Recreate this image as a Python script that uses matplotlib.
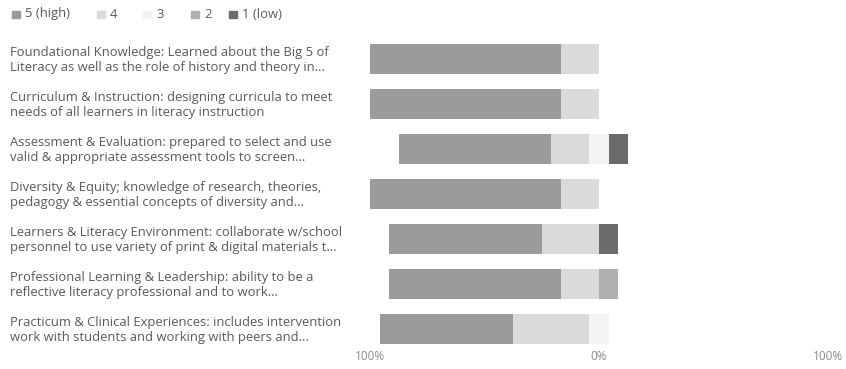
import numpy as np
import matplotlib
matplotlib.use('Agg')
import matplotlib.pyplot as plt
from matplotlib.patches import Rectangle

plt.rcParams['font.family'] = ['Open Sans', 'DejaVu Sans']

# questions (rows, top to bottom)
questions = [
    "Foundational Knowledge: Learned about the Big 5 of\nLiteracy as well as the role of history and theory in\u2026",
    "Curriculum & Instruction: designing curricula to meet\nneeds of all learners in literacy instruction",
    "Assessment & Evaluation: prepared to select and use\nvalid & appropriate assessment tools to screen\u2026",
    "Diversity & Equity; knowledge of research, theories,\npedagogy & essential concepts of diversity and\u2026",
    "Learners & Literacy Environment: collaborate w/school\npersonnel to use variety of print & digital materials t\u2026",
    "Professional Learning & Leadership: ability to be a\nreflective literacy professional and to work\u2026",
    "Practicum & Clinical Experiences: includes intervention\nwork with students and working with peers and\u2026",
]

# number of responses for each rating
levels = ["5 (high)", "4", "3", "2", "1 (low)"]
n5 = [10, 10, 8, 10, 8, 9, 7]
n4 = [2, 2, 2, 2, 3, 2, 4]
n3 = [0, 0, 1, 0, 0, 0, 1]
n2 = [0, 0, 0, 0, 0, 1, 0]
n1 = [0, 0, 1, 0, 1, 0, 0]

colors = ["#9b9b9b", "#dadada", "#f3f3f3", "#b0b0b0", "#6b6b6b"]

counts = np.array([n5, n4, n3, n2, n1], dtype=float)
pct = counts / counts.sum(axis=0) * 100

W, H = 846, 369
fig = plt.figure(figsize=(W / 100, H / 100), dpi=100)
ax = fig.add_axes([370 / W, 1 - 351.5 / H, 458 / W, 315 / H])

y = np.arange(len(questions))
# diverging: positives to the left of 0, neutral centred on 0
start = -(pct[0] + pct[1] + pct[2] / 2)
for i in range(5):
    ax.barh(y, pct[i], left=start, height=0.67, color=colors[i], edgecolor='none')
    start = start + pct[i]

ax.set_xlim(-100, 100)
ax.set_ylim(len(questions) - 0.5, -0.5)
ax.set_yticks([])
ax.set_xticks([-100, 0, 100])
ax.set_xticklabels(["100%", "0%", "100%"], fontsize=8.5, color="#8a8a8a")
ax.tick_params(axis='x', length=0, pad=-1)
for s in ax.spines.values():
    s.set_visible(False)

# row labels
for i, q in enumerate(questions):
    yc = 60 + 45 * i
    fig.text(10 / W, 1 - yc / H, q, ha='left', va='center', fontsize=9.4,
             color="#5a5a5a", linespacing=1.22)

# legend across the top
leg_x = [12, 97, 143, 191, 229]
for lx, lab, c in zip(leg_x, levels, colors):
    fig.patches.append(Rectangle((lx / W, 1 - 18 / H), 8 / W, 7 / H,
                                 transform=fig.transFigure, color=c))
    fig.text((lx + 13) / W, 1 - 14 / H, lab, ha='left', va='center',
             fontsize=9.4, color="#5a5a5a")

fig.savefig("out.png", dpi=100, facecolor="white")
